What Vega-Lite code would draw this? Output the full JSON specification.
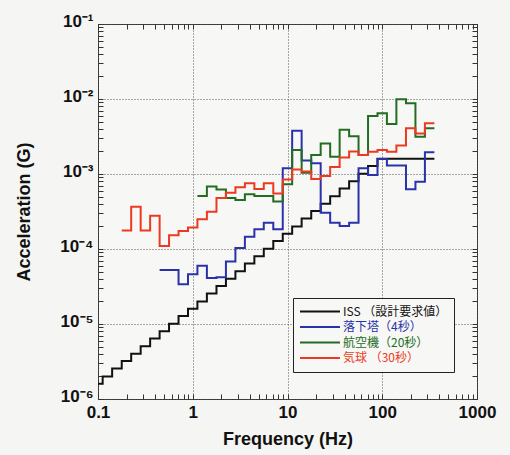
{
  "$schema": "https://vega.github.io/schema/vega-lite/v6.json",
  "width": 379,
  "height": 375,
  "autosize": "none",
  "padding": {"left": 98, "top": 24, "right": 33, "bottom": 56},
  "background": "#f5f5f3",
  "config": {
    "view": {"stroke": "#333333", "strokeWidth": 1, "fill": "#f7f7f5"}
  },
  "data": {
    "values": [
      {"s": "ISS （設計要求値）", "f": 0.1, "a": 1.6e-6},
      {"s": "ISS （設計要求値）", "f": 0.112, "a": 2.0e-6},
      {"s": "ISS （設計要求値）", "f": 0.141, "a": 2.56e-6},
      {"s": "ISS （設計要求値）", "f": 0.178, "a": 3.2e-6},
      {"s": "ISS （設計要求値）", "f": 0.224, "a": 4.0e-6},
      {"s": "ISS （設計要求値）", "f": 0.282, "a": 5.04e-6},
      {"s": "ISS （設計要求値）", "f": 0.355, "a": 6.4e-6},
      {"s": "ISS （設計要求値）", "f": 0.447, "a": 8.0e-6},
      {"s": "ISS （設計要求値）", "f": 0.562, "a": 1.01e-5},
      {"s": "ISS （設計要求値）", "f": 0.708, "a": 1.28e-5},
      {"s": "ISS （設計要求値）", "f": 0.891, "a": 1.6e-5},
      {"s": "ISS （設計要求値）", "f": 1.12, "a": 2.0e-5},
      {"s": "ISS （設計要求値）", "f": 1.41, "a": 2.56e-5},
      {"s": "ISS （設計要求値）", "f": 1.78, "a": 3.2e-5},
      {"s": "ISS （設計要求値）", "f": 2.24, "a": 4.0e-5},
      {"s": "ISS （設計要求値）", "f": 2.82, "a": 5.04e-5},
      {"s": "ISS （設計要求値）", "f": 3.55, "a": 6.4e-5},
      {"s": "ISS （設計要求値）", "f": 4.47, "a": 8.0e-5},
      {"s": "ISS （設計要求値）", "f": 5.62, "a": 1.01e-4},
      {"s": "ISS （設計要求値）", "f": 7.08, "a": 1.28e-4},
      {"s": "ISS （設計要求値）", "f": 8.91, "a": 1.6e-4},
      {"s": "ISS （設計要求値）", "f": 11.2, "a": 2.0e-4},
      {"s": "ISS （設計要求値）", "f": 14.1, "a": 2.56e-4},
      {"s": "ISS （設計要求値）", "f": 17.8, "a": 3.2e-4},
      {"s": "ISS （設計要求値）", "f": 22.4, "a": 4.0e-4},
      {"s": "ISS （設計要求値）", "f": 28.2, "a": 5.04e-4},
      {"s": "ISS （設計要求値）", "f": 35.5, "a": 6.4e-4},
      {"s": "ISS （設計要求値）", "f": 44.7, "a": 8.0e-4},
      {"s": "ISS （設計要求値）", "f": 56.2, "a": 1.01e-3},
      {"s": "ISS （設計要求値）", "f": 70.8, "a": 1.28e-3},
      {"s": "ISS （設計要求値）", "f": 89.1, "a": 1.6e-3},
      {"s": "ISS （設計要求値）", "f": 355, "a": 1.6e-3},

      {"s": "落下塔（4秒）", "f": 0.447, "a": 5.25e-5},
      {"s": "落下塔（4秒）", "f": 0.562, "a": 5.25e-5},
      {"s": "落下塔（4秒）", "f": 0.708, "a": 3.4e-5},
      {"s": "落下塔（4秒）", "f": 0.891, "a": 4.6e-5},
      {"s": "落下塔（4秒）", "f": 1.12, "a": 6.0e-5},
      {"s": "落下塔（4秒）", "f": 1.41, "a": 4.1e-5},
      {"s": "落下塔（4秒）", "f": 1.78, "a": 4.2e-5},
      {"s": "落下塔（4秒）", "f": 2.24, "a": 6.8e-5},
      {"s": "落下塔（4秒）", "f": 2.82, "a": 1.03e-4},
      {"s": "落下塔（4秒）", "f": 3.55, "a": 1.46e-4},
      {"s": "落下塔（4秒）", "f": 4.47, "a": 1.83e-4},
      {"s": "落下塔（4秒）", "f": 5.62, "a": 2.24e-4},
      {"s": "落下塔（4秒）", "f": 7.08, "a": 1.83e-4},
      {"s": "落下塔（4秒）", "f": 8.91, "a": 1.19e-3},
      {"s": "落下塔（4秒）", "f": 11.2, "a": 3.78e-3},
      {"s": "落下塔（4秒）", "f": 14.1, "a": 1.51e-3},
      {"s": "落下塔（4秒）", "f": 17.8, "a": 1.39e-3},
      {"s": "落下塔（4秒）", "f": 22.4, "a": 3.05e-4},
      {"s": "落下塔（4秒）", "f": 28.2, "a": 2.24e-4},
      {"s": "落下塔（4秒）", "f": 35.5, "a": 2.03e-4},
      {"s": "落下塔（4秒）", "f": 44.7, "a": 2.24e-4},
      {"s": "落下塔（4秒）", "f": 56.2, "a": 1.19e-3},
      {"s": "落下塔（4秒）", "f": 70.8, "a": 9.7e-4},
      {"s": "落下塔（4秒）", "f": 89.1, "a": 1.58e-3},
      {"s": "落下塔（4秒）", "f": 112, "a": 1.3e-3},
      {"s": "落下塔（4秒）", "f": 141, "a": 1.3e-3},
      {"s": "落下塔（4秒）", "f": 178, "a": 6.25e-4},
      {"s": "落下塔（4秒）", "f": 224, "a": 7.9e-4},
      {"s": "落下塔（4秒）", "f": 282, "a": 1.95e-3},
      {"s": "落下塔（4秒）", "f": 355, "a": 1.95e-3},

      {"s": "航空機（20秒）", "f": 1.12, "a": 5.1e-4},
      {"s": "航空機（20秒）", "f": 1.41, "a": 6.8e-4},
      {"s": "航空機（20秒）", "f": 1.78, "a": 6.2e-4},
      {"s": "航空機（20秒）", "f": 2.24, "a": 4.8e-4},
      {"s": "航空機（20秒）", "f": 2.82, "a": 4.5e-4},
      {"s": "航空機（20秒）", "f": 3.55, "a": 5.36e-4},
      {"s": "航空機（20秒）", "f": 4.47, "a": 5.1e-4},
      {"s": "航空機（20秒）", "f": 5.62, "a": 5.1e-4},
      {"s": "航空機（20秒）", "f": 7.08, "a": 4.3e-4},
      {"s": "航空機（20秒）", "f": 8.91, "a": 7.3e-4},
      {"s": "航空機（20秒）", "f": 11.2, "a": 2.09e-3},
      {"s": "航空機（20秒）", "f": 14.1, "a": 1.04e-3},
      {"s": "航空機（20秒）", "f": 17.8, "a": 1.79e-3},
      {"s": "航空機（20秒）", "f": 22.4, "a": 2.56e-3},
      {"s": "航空機（20秒）", "f": 28.2, "a": 1.7e-3},
      {"s": "航空機（20秒）", "f": 35.5, "a": 3.9e-3},
      {"s": "航空機（20秒）", "f": 44.7, "a": 3.18e-3},
      {"s": "航空機（20秒）", "f": 56.2, "a": 1.79e-3},
      {"s": "航空機（20秒）", "f": 70.8, "a": 5.93e-3},
      {"s": "航空機（20秒）", "f": 89.1, "a": 6.44e-3},
      {"s": "航空機（20秒）", "f": 112, "a": 4.64e-3},
      {"s": "航空機（20秒）", "f": 141, "a": 9.9e-3},
      {"s": "航空機（20秒）", "f": 178, "a": 8.77e-3},
      {"s": "航空機（20秒）", "f": 224, "a": 3.15e-3},
      {"s": "航空機（20秒）", "f": 282, "a": 4.07e-3},
      {"s": "航空機（20秒）", "f": 355, "a": 4.07e-3},

      {"s": "気球 （30秒）", "f": 0.178, "a": 1.77e-4},
      {"s": "気球 （30秒）", "f": 0.224, "a": 3.67e-4},
      {"s": "気球 （30秒）", "f": 0.282, "a": 1.77e-4},
      {"s": "気球 （30秒）", "f": 0.355, "a": 2.78e-4},
      {"s": "気球 （30秒）", "f": 0.447, "a": 1.10e-4},
      {"s": "気球 （30秒）", "f": 0.562, "a": 1.52e-4},
      {"s": "気球 （30秒）", "f": 0.708, "a": 1.74e-4},
      {"s": "気球 （30秒）", "f": 0.891, "a": 1.93e-4},
      {"s": "気球 （30秒）", "f": 1.12, "a": 2.49e-4},
      {"s": "気球 （30秒）", "f": 1.41, "a": 3.15e-4},
      {"s": "気球 （30秒）", "f": 1.78, "a": 4.8e-4},
      {"s": "気球 （30秒）", "f": 2.24, "a": 5.64e-4},
      {"s": "気球 （30秒）", "f": 2.82, "a": 6.64e-4},
      {"s": "気球 （30秒）", "f": 3.55, "a": 7.5e-4},
      {"s": "気球 （30秒）", "f": 4.47, "a": 6.3e-4},
      {"s": "気球 （30秒）", "f": 5.62, "a": 7.5e-4},
      {"s": "気球 （30秒）", "f": 7.08, "a": 5.5e-4},
      {"s": "気球 （30秒）", "f": 8.91, "a": 8.45e-4},
      {"s": "気球 （30秒）", "f": 11.2, "a": 1.15e-3},
      {"s": "気球 （30秒）", "f": 14.1, "a": 1.08e-3},
      {"s": "気球 （30秒）", "f": 17.8, "a": 8.6e-4},
      {"s": "気球 （30秒）", "f": 22.4, "a": 9.4e-4},
      {"s": "気球 （30秒）", "f": 28.2, "a": 1.24e-3},
      {"s": "気球 （30秒）", "f": 35.5, "a": 1.66e-3},
      {"s": "気球 （30秒）", "f": 44.7, "a": 2.0e-3},
      {"s": "気球 （30秒）", "f": 56.2, "a": 1.79e-3},
      {"s": "気球 （30秒）", "f": 70.8, "a": 1.98e-3},
      {"s": "気球 （30秒）", "f": 89.1, "a": 2.09e-3},
      {"s": "気球 （30秒）", "f": 112, "a": 1.98e-3},
      {"s": "気球 （30秒）", "f": 141, "a": 2.39e-3},
      {"s": "気球 （30秒）", "f": 178, "a": 4.07e-3},
      {"s": "気球 （30秒）", "f": 224, "a": 3.48e-3},
      {"s": "気球 （30秒）", "f": 282, "a": 4.74e-3},
      {"s": "気球 （30秒）", "f": 355, "a": 4.74e-3}
    ]
  },
  "layer": [
    {
      "mark": {"type": "line", "interpolate": "step-after", "strokeWidth": 2},
      "encoding": {
        "x": {
          "field": "f", "type": "quantitative",
          "scale": {"type": "log", "domain": [0.1, 1000], "nice": false},
          "axis": {
            "orient": "bottom",
            "values": [0.1,0.2,0.3,0.4,0.5,0.6,0.7,0.8,0.9,1,2,3,4,5,6,7,8,9,10,20,30,40,50,60,70,80,90,100,200,300,400,500,600,700,800,900,1000],
            "labelExpr": "indexof([0.1,1,10,100,1000], datum.value) >= 0 ? '' + datum.value : ''",
            "labelOverlap": false, "labelFlush": false,
            "domain": false,
            "tickSize": -5, "tickColor": "#333333", "tickWidth": 1,
            "grid": true, "gridColor": "#555555", "gridDash": [1, 2], "gridWidth": 1,
            "gridOpacity": {"condition": {"test": "indexof([0.1,1,10,100,1000], datum.value) >= 0", "value": 1}, "value": 0},
            "labelFont": "Liberation Sans", "labelFontWeight": "bold", "labelFontSize": 17, "labelColor": "#111111", "labelPadding": 10,
            "title": "Frequency (Hz)", "titleFont": "Liberation Sans", "titleFontSize": 18, "titleFontWeight": "bold", "titleColor": "#111111", "titlePadding": 10
          }
        },
        "y": {
          "field": "a", "type": "quantitative",
          "scale": {"type": "log", "domain": [0.000001, 0.1], "nice": false},
          "axis": {
            "orient": "left",
            "values": [1e-6,2e-6,3e-6,4e-6,5e-6,6e-6,7e-6,8e-6,9e-6,1e-5,2e-5,3e-5,4e-5,5e-5,6e-5,7e-5,8e-5,9e-5,1e-4,2e-4,3e-4,4e-4,5e-4,6e-4,7e-4,8e-4,9e-4,0.001,0.002,0.003,0.004,0.005,0.006,0.007,0.008,0.009,0.01,0.02,0.03,0.04,0.05,0.06,0.07,0.08,0.09,0.1],
            "labelExpr": "abs(log(datum.value)/LN10 - round(log(datum.value)/LN10)) < 0.01 ? '10' + (round(log(datum.value)/LN10) == -1 ? '⁻¹' : round(log(datum.value)/LN10) == -2 ? '⁻²' : round(log(datum.value)/LN10) == -3 ? '⁻³' : round(log(datum.value)/LN10) == -4 ? '⁻⁴' : round(log(datum.value)/LN10) == -5 ? '⁻⁵' : '⁻⁶') : ''",
            "labelOverlap": false, "labelFlush": false, "labelOffset": -3,
            "domain": false,
            "tickSize": -5, "tickColor": "#333333", "tickWidth": 1,
            "grid": true, "gridColor": "#555555", "gridDash": [1, 2], "gridWidth": 1,
            "gridOpacity": {"condition": {"test": "abs(log(datum.value)/LN10 - round(log(datum.value)/LN10)) < 0.01", "value": 1}, "value": 0},
            "labelFont": "Liberation Sans", "labelFontWeight": "bold", "labelFontSize": 17, "labelColor": "#111111", "labelPadding": 10,
            "title": "Acceleration (G)", "titleFont": "Liberation Sans", "titleFontSize": 18, "titleFontWeight": "bold", "titleColor": "#111111", "titlePadding": 26
          }
        },
        "color": {
          "field": "s", "type": "nominal",
          "scale": {
            "domain": ["ISS （設計要求値）", "落下塔（4秒）", "航空機（20秒）", "気球 （30秒）"],
            "range": ["#111111", "#2a32aa", "#236d22", "#ec3a22"]
          },
          "legend": {
            "orient": "none", "legendX": 195, "legendY": 274,
            "title": null,
            "symbolType": "stroke", "symbolSize": 1600, "symbolStrokeWidth": 2,
            "clipHeight": 15,
            "labelFont": "Noto Sans CJK JP", "labelFontSize": 12, "labelLimit": 300, "labelOffset": 2,
            "strokeColor": "#222222", "fillColor": "#f7f7f5", "padding": 6, "rowPadding": 0.5,
            "encode": {"labels": {"update": {"fill": {"scale": "color", "field": "value"}}}}
          }
        }
      }
    },
    {
      "mark": {"type": "point", "opacity": 0},
      "encoding": {
        "x": {
          "field": "f", "type": "quantitative",
          "scale": {"type": "log", "domain": [0.1, 1000], "nice": false},
          "axis": {
            "orient": "top",
            "values": [0.1,0.2,0.3,0.4,0.5,0.6,0.7,0.8,0.9,1,2,3,4,5,6,7,8,9,10,20,30,40,50,60,70,80,90,100,200,300,400,500,600,700,800,900,1000],
            "labels": false, "domain": false, "grid": false, "title": null,
            "tickSize": -5, "tickColor": "#333333", "tickWidth": 1
          }
        },
        "y": {
          "field": "a", "type": "quantitative",
          "scale": {"type": "log", "domain": [0.000001, 0.1], "nice": false},
          "axis": {
            "orient": "right",
            "values": [1e-6,2e-6,3e-6,4e-6,5e-6,6e-6,7e-6,8e-6,9e-6,1e-5,2e-5,3e-5,4e-5,5e-5,6e-5,7e-5,8e-5,9e-5,1e-4,2e-4,3e-4,4e-4,5e-4,6e-4,7e-4,8e-4,9e-4,0.001,0.002,0.003,0.004,0.005,0.006,0.007,0.008,0.009,0.01,0.02,0.03,0.04,0.05,0.06,0.07,0.08,0.09,0.1],
            "labels": false, "domain": false, "grid": false, "title": null,
            "tickSize": -5, "tickColor": "#333333", "tickWidth": 1
          }
        }
      }
    }
  ],
  "resolve": {"axis": {"x": "independent", "y": "independent"}}
}
